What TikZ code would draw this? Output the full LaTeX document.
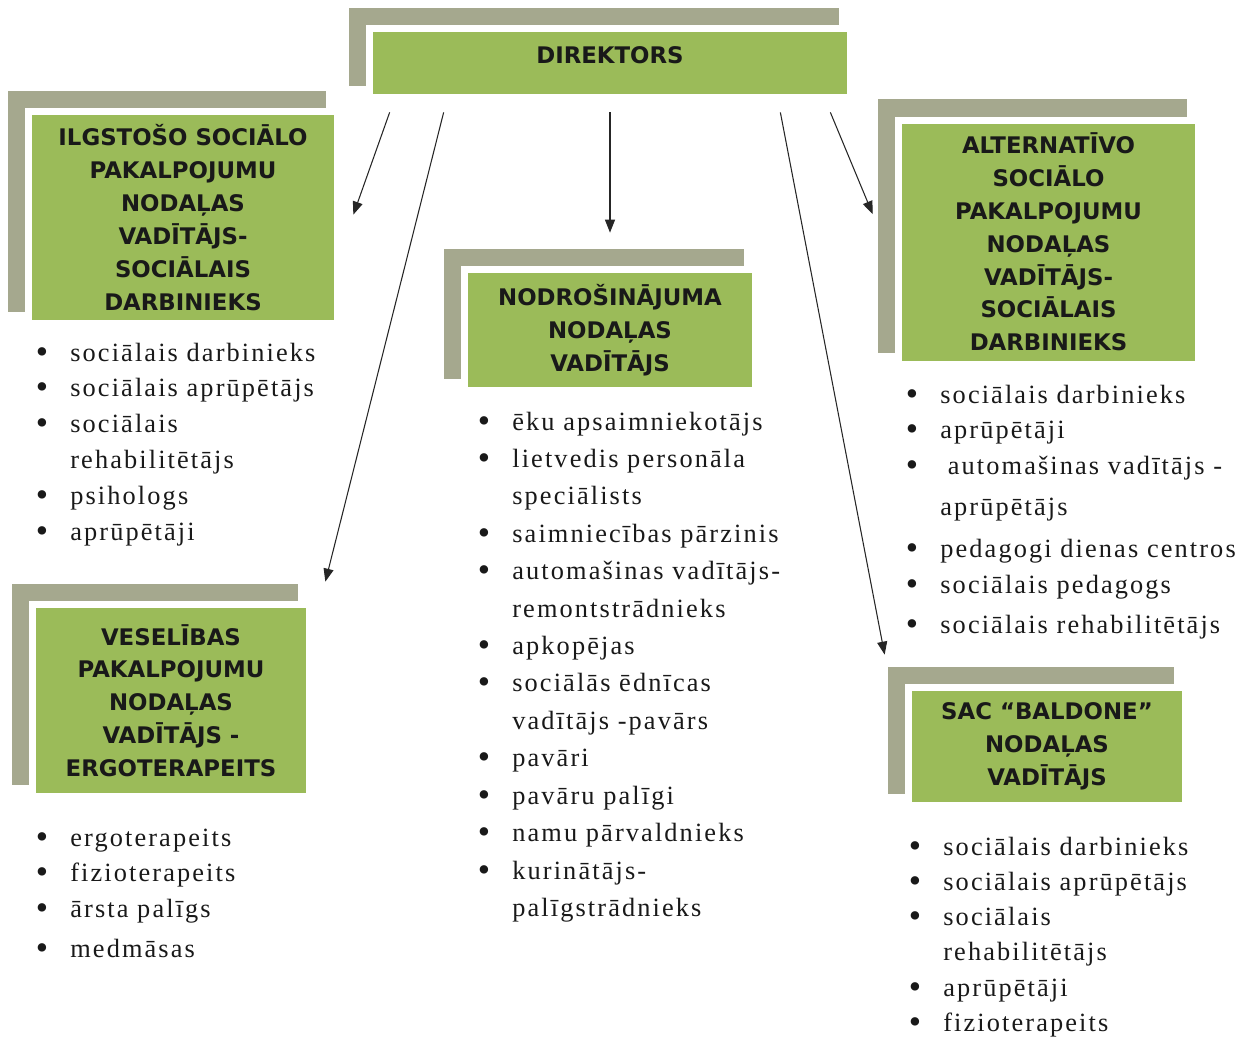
\documentclass[tikz,border=0pt]{standalone}
\usepackage{fontspec}
\setmainfont{Liberation Serif}
\newfontfamily\headfont{DejaVu Sans}
\newfontfamily\listfont{Liberation Serif}[LetterSpace=8]
\usetikzlibrary{arrows.meta,calc,backgrounds}
\definecolor{orggreen}{HTML}{9BBB59}
\definecolor{orggray}{HTML}{A5A88E}
\newcommand{\pxu}{0.02cm}
\newcommand{\bul}{\makebox[0.69cm][l]{\raisebox{-0.04cm}{\fontsize{20}{20}\selectfont\textbullet}}}
\newcommand{\nobul}{\hspace*{0.69cm}}

\begin{document}
\begin{tikzpicture}[x=0.02cm,y=-0.02cm,
  dept/.style 2 args={rectangle,fill=orggreen,
     preaction={draw=white,line width=14*\pxu},
     minimum width=#1*\pxu,minimum height=#2*\pxu,inner sep=0pt,
     align=center,font=\headfont\bfseries\fontsize{13}{18.7}\selectfont,
     text=black!90},
  lst/.style={anchor=base west,inner sep=0pt,
     font=\listfont\fontsize{15}{20.4}\selectfont,text=black!90},
  arr/.style={-{Triangle[length=0.26cm,width=0.2cm]},line width=0.6pt,black!85}
]
\useasboundingbox (0,0) rectangle (1254,1038);

% Director
\node[dept={474}{62},text depth=0.33cm] (dir) at (610,63) {DIREKTORS};

% Department heads
\node[dept={302}{205}] (ilg) at (183,217.5)
  {ILGSTOŠO SOCIĀLO\\PAKALPOJUMU\\NODAĻAS\\VADĪTĀJS-\\SOCIĀLAIS\\DARBINIEKS};
\node[dept={284}{114}] (nod) at (610,330) {NODROŠINĀJUMA\\NODAĻAS\\VADĪTĀJS};
\node[dept={293}{237}] (alt) at (1048.5,242)
  {ALTERNATĪVO\\SOCIĀLO\\PAKALPOJUMU\\NODAĻAS\\VADĪTĀJS-\\SOCIĀLAIS\\DARBINIEKS};
\node[dept={270}{185}] (ves) at (171,700.5)
  {VESELĪBAS\\PAKALPOJUMU\\NODAĻAS\\VADĪTĀJS -\\ERGOTERAPEITS};
\node[dept={270}{111}] (sac) at (1047,746.5) {SAC “BALDONE”\\NODAĻAS\\VADĪTĀJS};

% Staff lists
\node[lst] (ilglist) at (35.5,361)
  {\begin{tabular}[t]{@{}l@{}}
   \bul sociālais darbinieks\\\bul sociālais aprūpētājs\\\bul sociālais\\
   \nobul rehabilitētājs\\\bul psihologs\\\bul aprūpētāji
   \end{tabular}};
\node[lst,font=\listfont\fontsize{15}{21.3}\selectfont] (nodlist) at (477.5,430)
  {\begin{tabular}[t]{@{}l@{}}
   \bul ēku apsaimniekotājs\\\bul lietvedis personāla\\\nobul speciālists\\
   \bul saimniecības pārzinis\\\bul automašinas vadītājs-\\\nobul remontstrādnieks\\
   \bul apkopējas\\\bul sociālās ēdnīcas\\\nobul vadītājs -pavārs\\\bul pavāri\\
   \bul pavāru palīgi\\\bul namu pārvaldnieks\\\bul kurinātājs-\\\nobul palīgstrādnieks
   \end{tabular}};
\node[lst] (altlist) at (905.5,403)
  {\begin{tabular}[t]{@{}l@{}}
   \bul sociālais darbinieks\\\bul aprūpētāji\\
   \bul\hspace{0.15cm}automašinas vadītājs -\\[0.1cm]\nobul aprūpētājs\\[0.12cm]
   \bul pedagogi dienas centros\\\bul sociālais pedagogs\\[0.08cm]
   \bul sociālais rehabilitētājs
   \end{tabular}};
\node[lst] (veslist) at (35.5,846)
  {\begin{tabular}[t]{@{}l@{}}
   \bul ergoterapeits\\\bul fizioterapeits\\\bul ārsta palīgs\\[0.08cm]\bul medmāsas
   \end{tabular}};
\node[lst,font=\listfont\fontsize{15}{20.1}\selectfont] (saclist) at (908.5,855)
  {\begin{tabular}[t]{@{}l@{}}
   \bul sociālais darbinieks\\\bul sociālais aprūpētājs\\\bul sociālais\\
   \nobul rehabilitētājs\\\bul aprūpētāji\\\bul fizioterapeits
   \end{tabular}};

% Arrows from the director
\draw[arr] ($(dir.south west)+(17,18)$) -- ($(ilg.north east)+(19,100)$);
\draw[arr] ($(dir.south west)+(71,18)$) -- ($(ves.north east)+(19,-26)$);
\draw[arr] ($(dir.south)+(0,18)$) -- ($(nod.north)+(0,-40)$);
\draw[arr] ($(dir.south east)+(-67,18)$) -- ($(sac.north west)+(-27,-36)$);
\draw[arr] ($(dir.south east)+(-17,18)$) -- ($(alt.north west)+(-29,91)$);

% Shadows behind the boxes
\begin{scope}[on background layer]
  \fill[white] (0,0) rectangle (1254,1038);
  \foreach \n in {dir,ilg,nod,alt,ves,sac}
    \fill[orggray] ($(\n.north west)+(-24,-24)$) rectangle ($(\n.south east)+(-8,-8)$);
\end{scope}
\end{tikzpicture}
\end{document}
